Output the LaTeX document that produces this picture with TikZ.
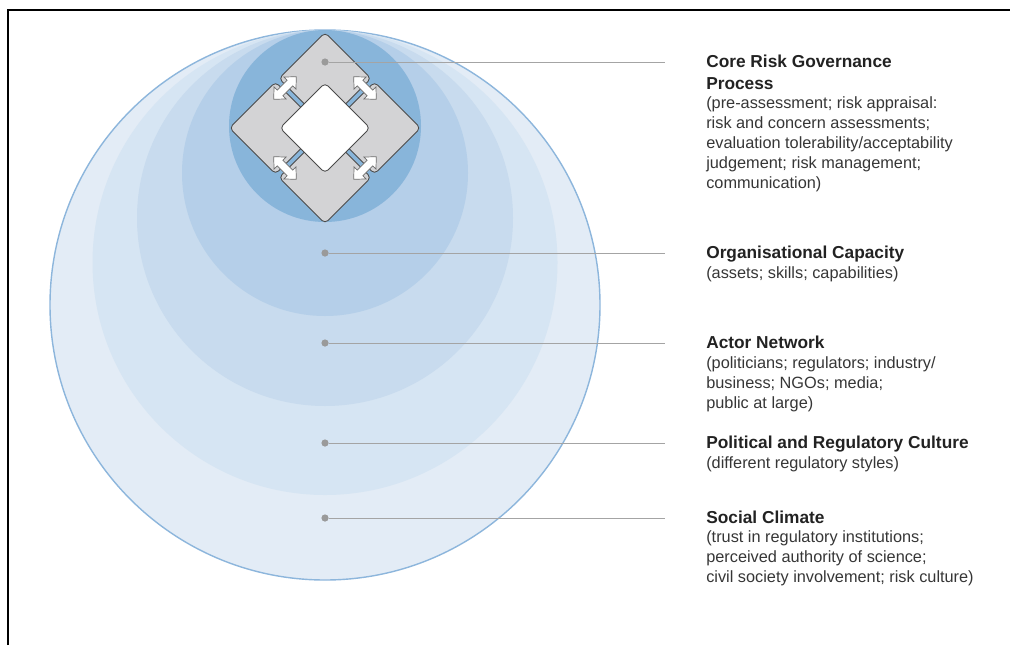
\documentclass[tikz,border=0pt]{standalone}
\usepackage{fontspec}
\setmainfont{Liberation Sans}
\usetikzlibrary{positioning}
\definecolor{ringa}{HTML}{E3ECF6}
\definecolor{ringb}{HTML}{D6E5F3}
\definecolor{ringc}{HTML}{C8DBEE}
\definecolor{ringd}{HTML}{B5CFE9}
\definecolor{ringe}{HTML}{88B5DA}
\definecolor{ringedge}{HTML}{8DB6DC}
\definecolor{tilegrey}{HTML}{D3D3D5}
\definecolor{tileedge}{HTML}{4A4A4A}
\definecolor{dotgrey}{HTML}{9A9A9A}
\definecolor{leadgrey}{HTML}{A4A4A4}
\definecolor{headtext}{HTML}{222222}
\definecolor{bodytext}{HTML}{363636}
\begin{document}
\begin{tikzpicture}[x=0.025cm,y=-0.025cm,
  tile/.style={draw=tileedge,fill=tilegrey,line width=0.6pt,rounded corners=3pt},
  twoway/.style={draw=tileedge!80,fill=white,line width=0.5pt},
  dot/.style={circle,fill=dotgrey,inner sep=0pt,minimum size=0.18cm},
  lead/.style={draw=leadgrey,line width=0.6pt},
  head/.style={anchor=base west,inner sep=0pt,align=left,text=headtext,font=\fontsize{12.3}{15.6}\selectfont\bfseries},
  body/.style={anchor=base west,inner sep=0pt,align=left,text=bodytext,font=\fontsize{11.6}{14.2}\selectfont}]
\useasboundingbox (0,0) rectangle (1010,645);
% frame
\draw[line width=1.3pt] (8,645) -- (8,10) -- (1010,10);
% nested spheres
\filldraw[fill=ringa,draw=ringedge,line width=1pt] (325,305) circle (275);
\fill[ringb] (325,262.5) circle (232.5);
\fill[ringc] (325,218) circle (188);
\fill[ringd] (325,173) circle (143);
\fill[ringe] (325,126) circle (96);
% core process tiles
\foreach \cx/\cy in {325/78.5,275.5/128,374.5/128,325/177.5}
  \draw[tile] (\cx,\cy-46) -- (\cx+46,\cy) -- (\cx,\cy+46) -- (\cx-46,\cy) -- cycle;
\draw[tile,fill=white] (325,83) -- (370,128) -- (325,173) -- (280,128) -- cycle;
\foreach \ax/\ay/\rot in {285/88/45,365/88/-45,285/168/-45,365/168/45}{
  \begin{scope}[shift={(\ax,\ay)},rotate=\rot]
    \draw[twoway] (-16,0) -- (-7,8.5) -- (-7,4) -- (7,4) -- (7,8.5) -- (16,0)
      -- (7,-8.5) -- (7,-4) -- (-7,-4) -- (-7,-8.5) -- cycle;
  \end{scope}}
% leaders
\node[dot] (d1) at (325,62) {};
\node[dot] (d2) at (325,253) {};
\node[dot] (d3) at (325,343) {};
\node[dot] (d4) at (325,443) {};
\node[dot] (d5) at (325,518) {};
\coordinate (e1) at (665,62);
\coordinate (e2) at (665,253);
\coordinate (e3) at (665,343);
\coordinate (e4) at (665,443);
\coordinate (e5) at (665,518);
\draw[lead] (d1) -- (e1);
\draw[lead] (d2) -- (e2);
\draw[lead] (d3) -- (e3);
\draw[lead] (d4) -- (e4);
\draw[lead] (d5) -- (e5);
% labels (base = last line)
\node[head] (h1) at (706,89.5) {Core Risk Governance\\Process};
\node[body] (b1) at (706,188) {(pre-assessment; risk appraisal:\\risk and concern assessments;\\evaluation tolerability/acceptability\\judgement; risk management;\\communication)};
\node[head] (h2) at (706,258.5) {Organisational Capacity};
\node[body] (b2) at (706,278) {(assets; skills; capabilities)};
\node[head] (h3) at (706,348.5) {Actor Network};
\node[body] (b3) at (706,408) {(politicians; regulators; industry/\\business; NGOs; media;\\public at large)};
\node[head] (h4) at (706,448.5) {Political and Regulatory Culture};
\node[body] (b4) at (706,468) {(different regulatory styles)};
\node[head] (h5) at (706,523.5) {Social Climate};
\node[body] (b5) at (706,582) {(trust in regulatory institutions;\\perceived authority of science;\\civil society involvement; risk culture)};
\end{tikzpicture}
\end{document}
